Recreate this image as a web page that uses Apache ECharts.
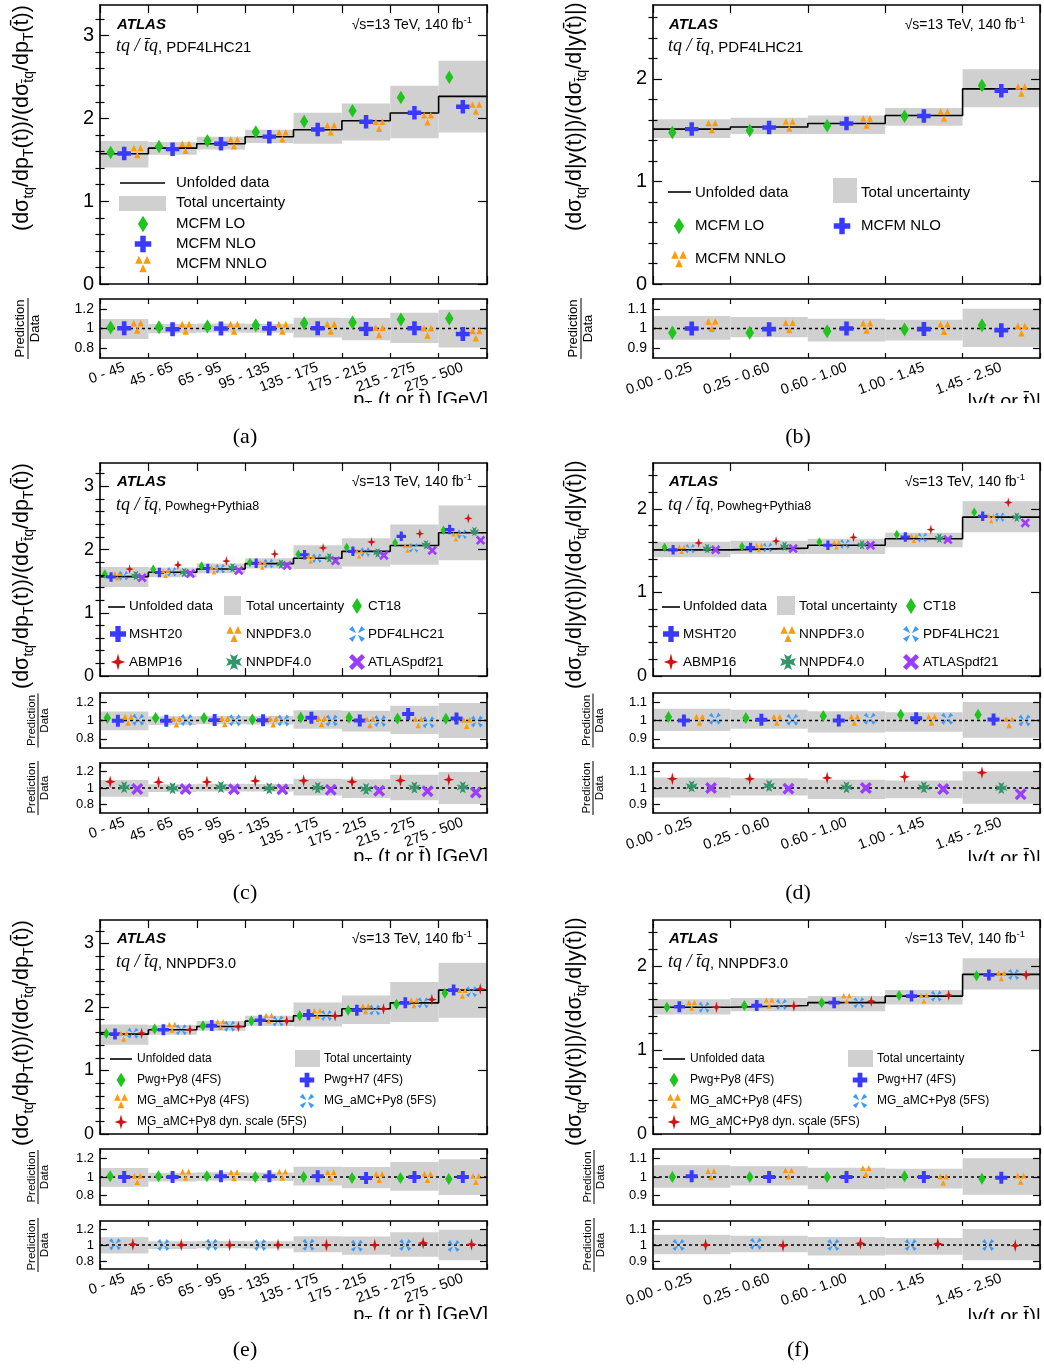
<!DOCTYPE html>
<html>
<head>
<meta charset="utf-8">
<script src="https://cdn.jsdelivr.net/npm/echarts@6/dist/echarts.min.js"></script>
<style>
html, body { margin: 0; padding: 0; background: #fff; }
#chart { width: 1044px; height: 1369px; }
</style>
</head>
<body>
<div id="chart"></div>
<script>
// ---- bins ----
const ptBins = ['0 - 45', '45 - 65', '65 - 95', '95 - 135', '135 - 175', '175 - 215', '215 - 275', '275 - 500'];
const yBins = ['0.00 - 0.25', '0.25 - 0.60', '0.60 - 1.00', '1.00 - 1.45', '1.45 - 2.50'];

// ---- unfolded data and total uncertainty band ----
const ptData = [1.573, 1.641, 1.694, 1.778, 1.863, 1.972, 2.065, 2.266];
const ptUncHigh = [1.726, 1.716, 1.778, 1.863, 2.069, 2.181, 2.395, 2.698];
const ptUncLow = [1.407, 1.561, 1.625, 1.702, 1.694, 1.734, 1.762, 1.831];
const yData = [1.510, 1.531, 1.565, 1.643, 1.902];
const yUncHigh = [1.606, 1.620, 1.643, 1.716, 2.093];
const yUncLow = [1.423, 1.462, 1.462, 1.542, 1.722];

// ---- MCFM fixed-order predictions ----
const mcfmLoPt = [1.589, 1.661, 1.730, 1.835, 1.964, 2.093, 2.254, 2.496];
const mcfmNloPt = [1.576, 1.629, 1.694, 1.780, 1.867, 1.961, 2.069, 2.140];
const mcfmNnloPt = [1.600, 1.652, 1.706, 1.790, 1.876, 1.917, 1.995, 2.126];
const mcfmLoY = [1.477, 1.497, 1.543, 1.635, 1.934];
const mcfmNloY = [1.510, 1.526, 1.565, 1.638, 1.885];
const mcfmNnloY = [1.536, 1.549, 1.579, 1.648, 1.892];

// ---- Powheg+Pythia8 with different PDF sets ----
const ct18Pt = [1.615, 1.687, 1.741, 1.796, 1.926, 2.035, 2.110, 2.307];
const msht20Pt = [1.568, 1.638, 1.701, 1.783, 1.919, 1.972, 2.210, 2.316];
const nnpdf30Pt = [1.586, 1.625, 1.680, 1.757, 1.850, 1.935, 2.024, 2.203];
const pdf4lhc21Pt = [1.586, 1.648, 1.697, 1.778, 1.863, 1.960, 2.028, 2.243];
const abmp16Pt = [1.691, 1.756, 1.818, 1.929, 2.027, 2.120, 2.251, 2.493];
const nnpdf40Pt = [1.589, 1.638, 1.713, 1.769, 1.869, 1.948, 2.077, 2.286];
const atlaspdf21Pt = [1.556, 1.620, 1.669, 1.750, 1.822, 1.907, 1.987, 2.146];
const ct18Y = [1.539, 1.551, 1.603, 1.694, 1.961];
const msht20Y = [1.510, 1.537, 1.565, 1.664, 1.913];
const nnpdf30Y = [1.516, 1.537, 1.571, 1.650, 1.885];
const pdf4lhc21Y = [1.524, 1.537, 1.579, 1.658, 1.902];
const abmp16Y = [1.593, 1.615, 1.660, 1.753, 2.077];
const nnpdf40Y = [1.525, 1.552, 1.571, 1.650, 1.902];
const atlaspdf21Y = [1.510, 1.525, 1.565, 1.633, 1.832];

// ---- MC generator predictions (NNPDF3.0) ----
const pwgPy8Pt = [1.584, 1.652, 1.706, 1.778, 1.863, 1.950, 2.042, 2.216];
const pwgH7Pt = [1.573, 1.641, 1.707, 1.791, 1.876, 1.950, 2.065, 2.266];
const mg4fsPt = [1.539, 1.682, 1.724, 1.822, 1.897, 1.972, 2.065, 2.216];
const mg5fsPt = [1.586, 1.641, 1.698, 1.778, 1.867, 1.952, 2.065, 2.239];
const mgDynPt = [1.586, 1.641, 1.692, 1.778, 1.861, 1.970, 2.117, 2.284];
const pwgPy8Y = [1.510, 1.531, 1.565, 1.650, 1.885];
const pwgH7Y = [1.516, 1.531, 1.565, 1.643, 1.894];
const mg4fsY = [1.533, 1.560, 1.614, 1.618, 1.885];
const mg5fsY = [1.510, 1.543, 1.565, 1.643, 1.902];
const mgDynY = [1.510, 1.525, 1.581, 1.653, 1.894];

// ---- styling ----
const FONT = 'Liberation Sans, Arial, Helvetica, sans-serif';
const SERIF = 'Liberation Serif, Times New Roman, serif';
const BAND = '#d0d0d0';
const TBAR = 't\u0304';

// marker outlines in a 20x20 box
const SHAPES = {
  diamond: [[[10, 0], [20, 10], [10, 20], [0, 10]]],
  plus: [[[6.7, 0], [13.3, 0], [13.3, 6.7], [20, 6.7], [20, 13.3], [13.3, 13.3], [13.3, 20], [6.7, 20], [6.7, 13.3], [0, 13.3], [0, 6.7], [6.7, 6.7]]],
  tri3: [[[0, 9.6], [4.8, 0], [9.6, 9.6]], [[10.4, 9.6], [15.2, 0], [20, 9.6]], [[5.2, 20], [10, 10.4], [14.8, 20]]],
  xwedge: [[[0, 4.5], [4.5, 0], [9, 9]], [[15.5, 0], [20, 4.5], [11, 9]], [[20, 15.5], [15.5, 20], [11, 11]], [[4.5, 20], [0, 15.5], [9, 11]]],
  star4: [[[10, 0], [12.3, 7.7], [20, 10], [12.3, 12.3], [10, 20], [7.7, 12.3], [0, 10], [7.7, 7.7]]],
  maltese: [[[5, 0], [10, 3], [15, 0], [12.5, 7.5], [20, 5], [17, 10], [20, 15], [12.5, 12.5], [15, 20], [10, 17], [5, 20], [7.5, 12.5], [0, 15], [3, 10], [0, 5], [7.5, 7.5]]],
  xthick: [[[0, 4], [4, 0], [10, 6], [16, 0], [20, 4], [14, 10], [20, 16], [16, 20], [10, 14], [4, 20], [0, 16], [6, 10]]]
};
const ASPECT = { diamond: [0.62, 1], plus: [1, 1], tri3: [0.95, 1], xwedge: [1, 1], star4: [0.9, 1.05], maltese: [1, 1], xthick: [1, 1] };
const STYLE = {
  green: { shape: 'diamond', color: '#1fc41f' },
  blue: { shape: 'plus', color: '#3a3aff' },
  orange: { shape: 'tri3', color: '#ff9a0d' },
  lightblue: { shape: 'xwedge', color: '#3a9bff' },
  red: { shape: 'star4', color: '#d01212' },
  teal: { shape: 'maltese', color: '#34946a' },
  purple: { shape: 'xthick', color: '#9b3dff' }
};
function symbolPath(shape) {
  return 'path://' + SHAPES[shape].map(p => 'M' + p.map(q => q.join(',')).join('L') + 'Z').join('');
}

const ptTitle = `{n|(dσ}{s|tq}{n|/dp}{s|T}{n|(t))/(dσ}{s|${TBAR}q}{n|/dp}{s|T}{n|(${TBAR}))}`;
const yTitle = `{n|(dσ}{s|tq}{n|/d|y(t)|)/(dσ}{s|${TBAR}q}{n|/d|y(${TBAR})|)}`;
const ptAxisTitle = `{n|p}{s|T}{n| (t or ${TBAR}) [GeV]}`;
const yAxisTitle = `{n||y(t or ${TBAR})|}`;

const pdfPreds = (v) => [
  { label: 'CT18', values: v[0], kind: 'green' },
  { label: 'MSHT20', values: v[1], kind: 'blue' },
  { label: 'NNPDF3.0', values: v[2], kind: 'orange' },
  { label: 'PDF4LHC21', values: v[3], kind: 'lightblue' },
  { label: 'ABMP16', values: v[4], kind: 'red' },
  { label: 'NNPDF4.0', values: v[5], kind: 'teal' },
  { label: 'ATLASpdf21', values: v[6], kind: 'purple' }
];
const genPreds = (v) => [
  { label: 'Pwg+Py8 (4FS)', values: v[0], kind: 'green' },
  { label: 'Pwg+H7 (4FS)', values: v[1], kind: 'blue' },
  { label: 'MG_aMC+Py8 (4FS)', values: v[2], kind: 'orange' },
  { label: 'MG_aMC+Py8 (5FS)', values: v[3], kind: 'lightblue' },
  { label: 'MG_aMC+Py8 dyn. scale (5FS)', values: v[4], kind: 'red' }
];

const panels = [
  { // (a)
    bins: ptBins, data: ptData, hi: ptUncHigh, lo: ptUncLow,
    x0: 100, x1: 487, main: [5, 284], yMax: 3.37, yLabels: [0, 1, 2, 3],
    preds: [
      { label: 'MCFM LO', values: mcfmLoPt, kind: 'green' },
      { label: 'MCFM NLO', values: mcfmNloPt, kind: 'blue' },
      { label: 'MCFM NNLO', values: mcfmNnloPt, kind: 'orange' }
    ],
    mainPos: [0.22, 0.5, 0.77], mainSize: 13.5,
    ratios: [{ box: [299, 358], range: [0.7, 1.3], ticks: [0.8, 1, 1.2], show: [0, 1, 2], pos: [0.22, 0.5, 0.77] }],
    ratioSize: 14, yFont: 20, rFont: 14, xFont: 14.5, fracX: 28, fracFont: 13,
    title: ptTitle, titleX: 22, xTitle: ptAxisTitle, xTitleY: 400, clipY: 403,
    proc: 'PDF4LHC21', procSize: 15, head: [117, 25, 46, 472],
    legendFont: 15, legendMarker: 16.5,
    legend: [['line', 120, 165, 183], ['text', 'Unfolded data', 176, 183], ['band', 119, 196, 47, 15], ['text', 'Total uncertainty', 176, 203],
      ['marker', 0, 143, 224], ['label', 0, 176, 224], ['marker', 1, 143, 244], ['label', 1, 176, 244], ['marker', 2, 143, 264], ['label', 2, 176, 264]],
    caption: ['(a)', 245, 437]
  },
  { // (b)
    bins: yBins, data: yData, hi: yUncHigh, lo: yUncLow,
    x0: 653, x1: 1040, main: [5, 284], yMax: 2.72, yLabels: [0, 1, 2],
    preds: [
      { label: 'MCFM LO', values: mcfmLoY, kind: 'green' },
      { label: 'MCFM NLO', values: mcfmNloY, kind: 'blue' },
      { label: 'MCFM NNLO', values: mcfmNnloY, kind: 'orange' }
    ],
    mainPos: [0.25, 0.5, 0.76], mainSize: 13.5,
    ratios: [{ box: [299, 358], range: [0.85, 1.15], ticks: [0.9, 1, 1.1], show: [0, 1, 2], pos: [0.25, 0.5, 0.76] }],
    ratioSize: 14, yFont: 20, rFont: 14, xFont: 14.5, fracX: 581, fracFont: 13,
    title: yTitle, titleX: 575, xTitle: yAxisTitle, xTitleY: 402, clipY: 403,
    proc: 'PDF4LHC21', procSize: 15, head: [669, 25, 46, 1025],
    legendFont: 15, legendMarker: 16.5,
    legend: [['line', 668, 691, 192], ['text', 'Unfolded data', 695, 193], ['band', 833, 178, 24, 25], ['text', 'Total uncertainty', 861, 193],
      ['marker', 0, 679, 226], ['label', 0, 695, 226], ['marker', 1, 842, 226], ['label', 1, 861, 226], ['marker', 2, 679, 259], ['label', 2, 695, 259]],
    caption: ['(b)', 798, 437]
  },
  { // (c)
    bins: ptBins, data: ptData, hi: ptUncHigh, lo: ptUncLow,
    x0: 100, x1: 487, main: [463, 676], yMax: 3.37, yLabels: [0, 1, 2, 3],
    preds: pdfPreds([ct18Pt, msht20Pt, nnpdf30Pt, pdf4lhc21Pt, abmp16Pt, nnpdf40Pt, atlaspdf21Pt]),
    mainPos: [0.1, 0.228, 0.356, 0.484, 0.612, 0.74, 0.868], mainSize: 9.5,
    ratios: [
      { box: [693, 748], range: [0.7, 1.3], ticks: [0.8, 1, 1.2], show: [0, 1, 2, 3], pos: [0.15, 0.37, 0.58, 0.79] },
      { box: [763, 813], range: [0.7, 1.3], ticks: [0.8, 1, 1.2], show: [4, 5, 6], pos: [0.21, 0.5, 0.77] }
    ],
    ratioSize: 12, yFont: 18, rFont: 13, xFont: 14.5, fracX: 38, fracFont: 11.5,
    title: ptTitle, titleX: 22, xTitle: ptAxisTitle, xTitleY: 857, clipY: 861,
    proc: 'Powheg+Pythia8', procSize: 12.5, head: [117, 482, 505, 472],
    legendFont: 13.5, legendMarker: 16,
    legend: [['line', 108, 125, 607], ['text', 'Unfolded data', 129, 606], ['band', 224, 596, 17, 19], ['text', 'Total uncertainty', 246, 606],
      ['marker', 0, 357, 606], ['label', 0, 368, 606],
      ['marker', 1, 118, 634], ['label', 1, 129, 634], ['marker', 2, 234, 634], ['label', 2, 246, 634], ['marker', 3, 357, 634], ['label', 3, 368, 634],
      ['marker', 4, 118, 662], ['label', 4, 129, 662], ['marker', 5, 234, 662], ['label', 5, 246, 662], ['marker', 6, 357, 662], ['label', 6, 368, 662]],
    caption: ['(c)', 245, 893]
  },
  { // (d)
    bins: yBins, data: yData, hi: yUncHigh, lo: yUncLow,
    x0: 653, x1: 1040, main: [463, 676], yMax: 2.55, yLabels: [0, 1, 2],
    preds: pdfPreds([ct18Y, msht20Y, nnpdf30Y, pdf4lhc21Y, abmp16Y, nnpdf40Y, atlaspdf21Y]),
    mainPos: [0.15, 0.26, 0.37, 0.48, 0.59, 0.70, 0.81], mainSize: 9.5,
    ratios: [
      { box: [693, 748], range: [0.85, 1.15], ticks: [0.9, 1, 1.1], show: [0, 1, 2, 3], pos: [0.2, 0.4, 0.6, 0.8] },
      { box: [763, 813], range: [0.85, 1.15], ticks: [0.9, 1, 1.1], show: [4, 5, 6], pos: [0.25, 0.5, 0.75] }
    ],
    ratioSize: 12, yFont: 18, rFont: 13, xFont: 14.5, fracX: 593, fracFont: 11.5,
    title: yTitle, titleX: 575, xTitle: yAxisTitle, xTitleY: 859, clipY: 861,
    proc: 'Powheg+Pythia8', procSize: 12.5, head: [669, 482, 505, 1025],
    legendFont: 13.5, legendMarker: 16,
    legend: [['line', 662, 680, 607], ['text', 'Unfolded data', 683, 606], ['band', 777, 596, 18, 19], ['text', 'Total uncertainty', 799, 606],
      ['marker', 0, 911, 606], ['label', 0, 923, 606],
      ['marker', 1, 671, 634], ['label', 1, 683, 634], ['marker', 2, 788, 634], ['label', 2, 799, 634], ['marker', 3, 911, 634], ['label', 3, 923, 634],
      ['marker', 4, 671, 662], ['label', 4, 683, 662], ['marker', 5, 788, 662], ['label', 5, 799, 662], ['marker', 6, 911, 662], ['label', 6, 923, 662]],
    caption: ['(d)', 798, 893]
  },
  { // (e)
    bins: ptBins, data: ptData, hi: ptUncHigh, lo: ptUncLow,
    x0: 100, x1: 487, main: [920, 1134], yMax: 3.37, yLabels: [0, 1, 2, 3],
    preds: genPreds([pwgPy8Pt, pwgH7Pt, mg4fsPt, mg5fsPt, mgDynPt]),
    mainPos: [0.13, 0.31, 0.49, 0.68, 0.86], mainSize: 11,
    ratios: [
      { box: [1149, 1205], range: [0.7, 1.3], ticks: [0.8, 1, 1.2], show: [0, 1, 2], pos: [0.21, 0.5, 0.77] },
      { box: [1221, 1269], range: [0.7, 1.3], ticks: [0.8, 1, 1.2], show: [3, 4], pos: [0.31, 0.68] }
    ],
    ratioSize: 12, yFont: 18, rFont: 13, xFont: 14.5, fracX: 38, fracFont: 11.5,
    title: ptTitle, titleX: 22, xTitle: ptAxisTitle, xTitleY: 1315, clipY: 1319,
    proc: 'NNPDF3.0', procSize: 14.5, head: [117, 939, 962, 472],
    legendFont: 12, legendMarker: 14.5,
    legend: [['line', 110, 132, 1059], ['text', 'Unfolded data', 137, 1059], ['band', 295, 1050, 25, 17], ['text', 'Total uncertainty', 324, 1059],
      ['marker', 0, 121, 1080], ['label', 0, 137, 1080], ['marker', 1, 307, 1080], ['label', 1, 324, 1080],
      ['marker', 2, 121, 1101], ['label', 2, 137, 1101], ['marker', 3, 307, 1101], ['label', 3, 324, 1101],
      ['marker', 4, 121, 1122], ['label', 4, 137, 1122]],
    caption: ['(e)', 245, 1350]
  },
  { // (f)
    bins: yBins, data: yData, hi: yUncHigh, lo: yUncLow,
    x0: 653, x1: 1040, main: [920, 1134], yMax: 2.55, yLabels: [0, 1, 2],
    preds: genPreds([pwgPy8Y, pwgH7Y, mg4fsY, mg5fsY, mgDynY]),
    mainPos: [0.18, 0.34, 0.5, 0.66, 0.82], mainSize: 11,
    ratios: [
      { box: [1149, 1205], range: [0.85, 1.15], ticks: [0.9, 1, 1.1], show: [0, 1, 2], pos: [0.25, 0.5, 0.75] },
      { box: [1221, 1269], range: [0.85, 1.15], ticks: [0.9, 1, 1.1], show: [3, 4], pos: [0.33, 0.68] }
    ],
    ratioSize: 12, yFont: 18, rFont: 13, xFont: 14.5, fracX: 594, fracFont: 11.5,
    title: yTitle, titleX: 575, xTitle: yAxisTitle, xTitleY: 1317, clipY: 1319,
    proc: 'NNPDF3.0', procSize: 14.5, head: [669, 939, 962, 1025],
    legendFont: 12, legendMarker: 14.5,
    legend: [['line', 663, 685, 1059], ['text', 'Unfolded data', 690, 1059], ['band', 848, 1050, 25, 17], ['text', 'Total uncertainty', 877, 1059],
      ['marker', 0, 674, 1080], ['label', 0, 690, 1080], ['marker', 1, 860, 1080], ['label', 1, 877, 1080],
      ['marker', 2, 674, 1101], ['label', 2, 690, 1101], ['marker', 3, 860, 1101], ['label', 3, 877, 1101],
      ['marker', 4, 674, 1122], ['label', 4, 690, 1122]],
    caption: ['(f)', 798, 1350]
  }
];

const option = { animation: false, backgroundColor: '#fff', grid: [], xAxis: [], yAxis: [], series: [], graphic: [] };

function addBox(P, top, bottom, isMain, R, isLast) {
  const n = P.bins.length;
  const g = option.grid.length;
  option.grid.push({ left: P.x0, top: top, width: P.x1 - P.x0, height: bottom - top, containLabel: false, outerBoundsMode: 'none' });
  const edges = Array.from({ length: n + 1 }, (_, i) => i);
  const centers = P.bins.map((_, i) => i + 0.5);
  const axisLine = { show: true, onZero: false, lineStyle: { color: '#000', width: 1.6 } };
  const tickStyle = { color: '#000', width: 1.2 };

  const xBase = {
    type: 'value', gridIndex: g, min: 0, max: n, z: 10, splitLine: { show: false }, axisLine: axisLine,
    axisTick: { show: true, inside: true, length: isMain ? 8 : 5, customValues: edges, lineStyle: tickStyle }
  };
  const xi = option.xAxis.length;
  option.xAxis.push(Object.assign({}, xBase, {
    position: 'bottom',
    axisLabel: { show: isLast, customValues: centers, formatter: v => P.bins[Math.floor(v)], rotate: 20, margin: 9, fontSize: P.xFont, fontFamily: FONT, color: '#000' }
  }));
  option.xAxis.push(Object.assign({}, xBase, { position: 'top', axisLabel: { show: false } }));

  const yMin = isMain ? 0 : R.range[0];
  const yMax = isMain ? P.yMax : R.range[1];
  const majors = isMain ? P.yLabels : R.ticks;
  const yBase = {
    type: 'value', gridIndex: g, min: yMin, max: yMax, z: 10, splitLine: { show: false }, axisLine: axisLine,
    axisTick: { show: true, inside: true, length: isMain ? 9 : 7, customValues: majors, lineStyle: tickStyle }
  };
  const yi = option.yAxis.length;
  option.yAxis.push(Object.assign({}, yBase, {
    position: 'left',
    axisLabel: { show: true, customValues: majors, formatter: v => String(+(+v).toFixed(2)), margin: 6, fontSize: isMain ? P.yFont : P.rFont, fontFamily: FONT, color: '#000' }
  }));
  option.yAxis.push(Object.assign({}, yBase, { position: 'right', axisLabel: { show: false } }));
  if (isMain) {
    const minors = [];
    for (let k = 1; k * 0.2 < yMax; k++) if (k % 5) minors.push(+(k * 0.2).toFixed(1));
    ['left', 'right'].forEach(pos => option.yAxis.push({
      type: 'value', gridIndex: g, min: yMin, max: yMax, z: 10, position: pos, splitLine: { show: false },
      axisLine: { show: false }, axisLabel: { show: false },
      axisTick: { show: true, inside: true, length: 4.5, customValues: minors, lineStyle: tickStyle }
    }));
  }

  const ref = P.data;
  const scale = isMain ? (() => 1) : (i => 1 / ref[i]);

  // total uncertainty band per bin
  option.series.push({
    type: 'custom', xAxisIndex: xi, yAxisIndex: yi, z: 1, silent: true,
    data: P.hi.map((h, i) => [i, P.lo[i] * scale(i), h * scale(i)]),
    renderItem: (params, api) => {
      const a = api.coord([api.value(0), api.value(2)]);
      const b = api.coord([api.value(0) + 1, api.value(1)]);
      return { type: 'rect', shape: { x: a[0], y: a[1], width: b[0] - a[0], height: b[1] - a[1] }, style: { fill: BAND } };
    }
  });

  if (isMain) {
    option.series.push({
      type: 'line', xAxisIndex: xi, yAxisIndex: yi, step: 'end', symbol: 'none', silent: true, z: 3,
      data: ref.map((v, i) => [i, v]).concat([[n, ref[n - 1]]]),
      lineStyle: { color: '#000', width: 1.6 }
    });
  } else {
    option.series.push({
      type: 'line', xAxisIndex: xi, yAxisIndex: yi, symbol: 'none', silent: true, z: 3,
      data: [[0, 1], [n, 1]],
      lineStyle: { color: '#000', width: 1.4, type: [3, 3] }
    });
  }

  const idx = isMain ? P.preds.map((_, k) => k) : R.show;
  const pos = isMain ? P.mainPos : R.pos;
  const size = isMain ? P.mainSize : P.ratioSize;
  idx.forEach((k, j) => {
    const pr = P.preds[k];
    const st = STYLE[pr.kind];
    const asp = ASPECT[st.shape];
    option.series.push({
      type: 'scatter', xAxisIndex: xi, yAxisIndex: yi, z: 5, silent: true,
      symbol: symbolPath(st.shape), symbolSize: [size * asp[0], size * asp[1]],
      itemStyle: { color: st.color, opacity: 1 },
      data: pr.values.map((v, i) => [i + pos[j], v * scale(i)])
    });
  });
}

function text(x, y, str, o) {
  return {
    type: 'text', x: x, y: y, rotation: o.rot || 0, z: 60,
    style: {
      text: str, fill: '#000', fontSize: o.size, fontFamily: o.family || FONT,
      fontWeight: o.weight || 'normal', fontStyle: o.style || 'normal',
      align: o.align || 'left', verticalAlign: o.valign || 'middle', rich: o.rich
    }
  };
}

function markerGraphic(kind, cx, cy, size) {
  const st = STYLE[kind];
  const asp = ASPECT[st.shape];
  const w = size * asp[0], h = size * asp[1];
  return {
    type: 'group', children: SHAPES[st.shape].map(poly => ({
      type: 'polygon', z: 60,
      shape: { points: poly.map(([px, py]) => [cx + (px / 20 - 0.5) * w, cy + (py / 20 - 0.5) * h]) },
      style: { fill: st.color }
    }))
  };
}

panels.forEach(P => {
  const boxes = [{ top: P.main[0], bottom: P.main[1], isMain: true }]
    .concat(P.ratios.map(r => ({ top: r.box[0], bottom: r.box[1], isMain: false, R: r })));
  boxes.forEach((B, bi) => addBox(P, B.top, B.bottom, B.isMain, B.R, bi === boxes.length - 1));

  const G = option.graphic;
  // vertical axis title, starting below the plot top and reading upwards
  G.push(text(P.titleX, P.main[0] + 226, P.title, {
    size: 21.5, rot: Math.PI / 2, align: 'left',
    rich: { n: { fontSize: 21.5, fontFamily: FONT }, s: { fontSize: 14, fontFamily: FONT, padding: [14, 0, 0, 0] } }
  }));
  // Prediction / Data fractions on the ratio panels
  P.ratios.forEach(r => {
    const cy = (r.box[0] + r.box[1]) / 2;
    const fs = P.fracFont;
    const half = fs * 2.35;
    G.push({
      type: 'group', x: P.fracX, y: cy, rotation: Math.PI / 2, children: [
        { type: 'text', x: 0, y: -fs * 0.55, z: 60, style: { text: 'Prediction', fontSize: fs, fontFamily: FONT, fill: '#000', align: 'center', verticalAlign: 'middle' } },
        { type: 'line', z: 60, shape: { x1: -half, y1: 0, x2: half, y2: 0 }, style: { stroke: '#000', lineWidth: 1 } },
        { type: 'text', x: 0, y: fs * 0.6, z: 60, style: { text: 'Data', fontSize: fs, fontFamily: FONT, fill: '#000', align: 'center', verticalAlign: 'middle' } }
      ]
    });
  });
  // horizontal axis title
  G.push(text(P.x1 + 1, P.xTitleY, P.xTitle, {
    size: 20, align: 'right',
    rich: { n: { fontSize: 20, fontFamily: FONT }, s: { fontSize: 13, fontFamily: FONT, padding: [12, 0, 0, 0] } }
  }));
  G.push({ type: 'rect', z: 80, shape: { x: P.x0 - 100, y: P.clipY, width: P.x1 - P.x0 + 110, height: 15 }, style: { fill: '#fff' } });

  // header labels
  const [hx, hy, py, ex] = P.head;
  G.push(text(hx, hy, 'ATLAS', { size: 15, weight: 'bold', style: 'italic' }));
  G.push(text(ex, hy, '{n|√s=13 TeV, 140 fb}{sup|-1}', {
    size: 14, align: 'right',
    rich: { n: { fontSize: 14, fontFamily: FONT }, sup: { fontSize: 9.5, fontFamily: FONT, padding: [0, 0, 10, 0] } }
  }));
  G.push(text(hx - 1, py, `{it|tq / ${TBAR}q}{n|, ${P.proc}}`, {
    size: 15,
    rich: { it: { fontSize: 18, fontFamily: SERIF, fontStyle: 'italic' }, n: { fontSize: P.procSize, fontFamily: FONT, padding: [3, 0, 0, 0] } }
  }));

  // legend
  P.legend.forEach(it => {
    const t = it[0];
    if (t === 'line') G.push({ type: 'line', z: 60, shape: { x1: it[1], y1: it[3], x2: it[2], y2: it[3] }, style: { stroke: '#000', lineWidth: 1.6 } });
    else if (t === 'band') G.push({ type: 'rect', z: 60, shape: { x: it[1], y: it[2], width: it[3], height: it[4] }, style: { fill: BAND } });
    else if (t === 'marker') G.push(markerGraphic(P.preds[it[1]].kind, it[2], it[3], P.legendMarker));
    else if (t === 'label') G.push(text(it[2], it[3], P.preds[it[1]].label, { size: P.legendFont }));
    else G.push(text(it[2], it[3], it[1], { size: P.legendFont }));
  });

  // sub-figure caption
  G.push(text(P.caption[1], P.caption[2], P.caption[0], { size: 22, family: SERIF, align: 'center' }));
});

const chart = echarts.init(document.getElementById('chart'), null, { renderer: 'canvas', width: 1044, height: 1369 });
chart.setOption(option);
</script>
</body>
</html>
